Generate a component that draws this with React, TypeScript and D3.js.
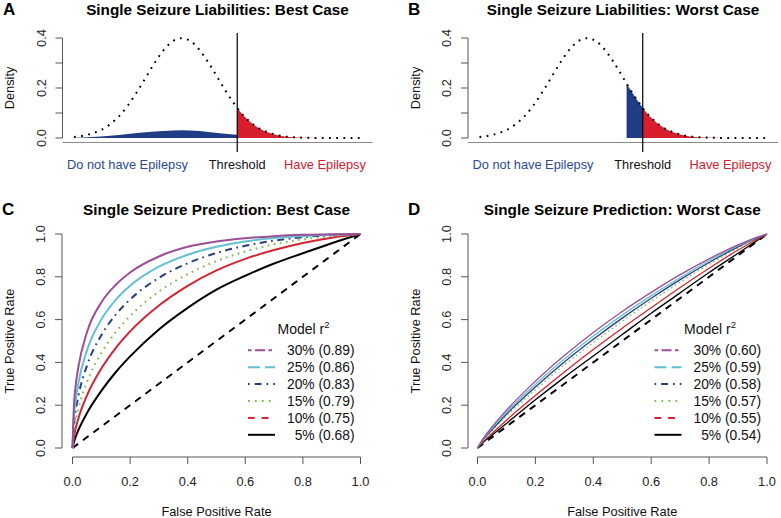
import React from "react";
import * as d3 from "d3";

const FONT = "'Liberation Sans', Arial, Helvetica, sans-serif";

const liabilityX = [-3, -2.75, -2.5, -2.25, -2, -1.75, -1.5, -1.25, -1, -0.75, -0.5, -0.25, 0, 0.25, 0.5, 0.75, 1, 1.1, 1.25, 1.5, 1.55, 1.75, 2, 2.25, 2.5, 2.75, 3, 3.25, 3.5, 3.75, 4, 4.5, 5];
const liabilityDensity = [0.004, 0.009, 0.018, 0.032, 0.054, 0.086, 0.13, 0.183, 0.242, 0.301, 0.352, 0.387, 0.399, 0.387, 0.352, 0.301, 0.242, 0.218, 0.183, 0.13, 0.12, 0.086, 0.054, 0.032, 0.018, 0.009, 0.004, 0.002, 0.001, 0.0004, 0.0001, 0, 0];
// blue bump under the curve in panel A (seizure, no epilepsy)
const bumpX = [-3, -2.5, -2, -1.5, -1, -0.5, 0, 0.5, 1, 1.55];
const bumpDensity = [0.001, 0.004, 0.009, 0.016, 0.023, 0.028, 0.031, 0.028, 0.02, 0.013];
const threshold = 1.55;
const worstCaseStart = 1.1;
const densityTicks = [0, 0.1, 0.2, 0.3, 0.4];

// ROC curves, best case (panel C)
const fprC = [0, 0.005, 0.01, 0.02, 0.05, 0.1, 0.15, 0.2, 0.3, 0.4, 0.5, 0.6, 0.7, 0.8, 0.9, 1];
const tpr30C = [0, 0.2, 0.28, 0.375, 0.54, 0.68, 0.762, 0.82, 0.895, 0.94, 0.965, 0.98, 0.99, 0.996, 0.999, 1];
const tpr25C = [0, 0.15, 0.21, 0.3, 0.455, 0.6, 0.692, 0.758, 0.847, 0.903, 0.94, 0.965, 0.981, 0.991, 0.997, 1];
const tpr20C = [0, 0.11, 0.164, 0.24, 0.384, 0.527, 0.623, 0.694, 0.795, 0.863, 0.911, 0.945, 0.969, 0.985, 0.995, 1];
const tpr15C = [0, 0.076, 0.118, 0.18, 0.307, 0.444, 0.541, 0.617, 0.731, 0.812, 0.873, 0.918, 0.952, 0.975, 0.991, 1];
const tpr10C = [0, 0.052, 0.085, 0.136, 0.245, 0.371, 0.467, 0.545, 0.666, 0.758, 0.83, 0.884, 0.925, 0.958, 0.983, 1];
const tpr05C = [0, 0.028, 0.048, 0.082, 0.163, 0.267, 0.354, 0.428, 0.554, 0.655, 0.74, 0.805, 0.862, 0.91, 0.957, 1];

// ROC curves, worst case (panel D)
const fprD = [0, 0.02, 0.05, 0.1, 0.2, 0.3, 0.4, 0.5, 0.6, 0.7, 0.8, 0.9, 0.95, 1];
const tpr30D = [0, 0.045, 0.098, 0.177, 0.312, 0.432, 0.54, 0.638, 0.727, 0.81, 0.884, 0.949, 0.977, 1];
const tpr25D = [0, 0.042, 0.092, 0.168, 0.298, 0.416, 0.523, 0.621, 0.712, 0.797, 0.875, 0.945, 0.975, 1];
const tpr20D = [0, 0.039, 0.085, 0.158, 0.285, 0.402, 0.508, 0.607, 0.7, 0.787, 0.867, 0.94, 0.972, 1];
const tpr15D = [0, 0.036, 0.08, 0.15, 0.272, 0.388, 0.493, 0.592, 0.686, 0.775, 0.858, 0.935, 0.97, 1];
const tpr10D = [0, 0.03, 0.068, 0.13, 0.245, 0.355, 0.46, 0.56, 0.655, 0.75, 0.84, 0.925, 0.963, 1];
const tpr05D = [0, 0.027, 0.06, 0.115, 0.225, 0.33, 0.43, 0.53, 0.63, 0.725, 0.82, 0.91, 0.955, 1];

const labelsC = ["30% (0.89)", "25% (0.86)", "20% (0.83)", "15% (0.79)", "10% (0.75)", "5% (0.68)"];
const labelsD = ["30% (0.60)", "25% (0.59)", "20% (0.58)", "15% (0.57)", "10% (0.55)", "5% (0.54)"];
const rocTicks = [0, 0.2, 0.4, 0.6, 0.8, 1];

const colors = ["#9C4F95", "#63C0D2", "#2A3E7C", "#7CBA4B", "#D42432", "#000000"];
const legendDash = ["3.5 3.5 10 3.5", "12 5", "1.7 5 6.8 5", "1.7 5.3", "6.8 6.8", null];
const curveDashC = [null, null, "1.7 4.5 7 4.5", "1.7 4.5", null, null];
const curveDashD = [null, null, null, "1.5 3", null, null];

const fmt = d3.format(".1f");

function DensityPanel({ axisX, letterX, letter, title, blue }) {
  const x = d3.scaleLinear().domain([-3, 5]).range([axisX + 11.5, axisX + 298.5]);
  const y = d3.scaleLinear().domain([0, 0.4]).range([138, 38]);
  const pts = liabilityX.map((v, i) => [v, liabilityDensity[i]]);
  const area = d3.area().x((d) => x(d[0])).y0(y(0)).y1((d) => y(d[1])).curve(d3.curveMonotoneX);
  const line = d3.line().x((d) => x(d[0])).y((d) => y(d[1])).curve(d3.curveMonotoneX);
  const red = pts.filter((d) => d[0] >= threshold);
  const tx = x(threshold);
  return (
    <g fontFamily={FONT}>
      <text x={letterX} y={15} fontSize={17} fontWeight="bold">{letter}</text>
      <text x={axisX + 155} y={15} fontSize={15.3} fontWeight="bold" textAnchor="middle">{title}</text>
      <path d={area(blue)} fill="#1F3C84" />
      <path d={area(red)} fill="#D81E2C" />
      <path d={line(pts)} fill="none" stroke="#000" strokeWidth={2} strokeDasharray="1.8 5.4" />
      <line x1={axisX} x2={axisX + 310} y1={142.5} y2={142.5} stroke="#8a8a8a" strokeWidth={1.2} />
      <line x1={tx} x2={tx} y1={33} y2={152} stroke="#000" strokeWidth={1.2} />
      <line x1={axisX} x2={axisX} y1={y(0)} y2={y(0.4)} stroke="#555" />
      {densityTicks.map((t, i) => (
        <g key={t}>
          <line x1={axisX - 7} x2={axisX} y1={y(t)} y2={y(t)} stroke="#555" />
          {i % 2 === 0 && (
            <text x={axisX - 17} y={y(t)} fontSize={12.8} textAnchor="middle" fill="#222"
              transform={`rotate(-90 ${axisX - 17} ${y(t)})`}>{fmt(t)}</text>
          )}
        </g>
      ))}
      <text x={axisX - 48.5} y={88} fontSize={12.8} textAnchor="middle" fill="#111"
        transform={`rotate(-90 ${axisX - 48.5} 88)`}>Density</text>
      <text x={axisX + 65} y={169} fontSize={12.8} textAnchor="middle" fill="#2E4A8E">Do not have Epilepsy</text>
      <text x={tx} y={169} fontSize={12.8} textAnchor="middle" fill="#111">Threshold</text>
      <text x={axisX + 262.5} y={169} fontSize={12.8} textAnchor="middle" fill="#D0202E">Have Epilepsy</text>
    </g>
  );
}

function RocPanel({ axisX, x0, x1, letterX, letter, title, fpr, series, labels, curveDash, width }) {
  const x = d3.scaleLinear().domain([0, 1]).range([x0, x1]);
  const y = d3.scaleLinear().domain([0, 1]).range([448, 234]);
  const line = d3.line().x((d) => x(d[0])).y((d) => y(d[1])).curve(d3.curveMonotoneX);
  const legendRight = x1 - 6;
  const legendLine = x1 - 112.5;
  return (
    <g fontFamily={FONT}>
      <text x={letterX} y={215} fontSize={17} fontWeight="bold">{letter}</text>
      <text x={(x0 + x1) / 2} y={215} fontSize={15.3} fontWeight="bold" textAnchor="middle">{title}</text>
      <line x1={x(0)} y1={y(0)} x2={x(1)} y2={y(1)} stroke="#000" strokeWidth={2} strokeDasharray="7 6" />
      {series.map((s, i) => ({ s, i })).reverse().map(({ s, i }) => (
        <path key={i} d={line(fpr.map((f, j) => [f, s[j]]))} fill="none" stroke={colors[i]}
          strokeWidth={width} strokeDasharray={curveDash[i] || undefined} />
      ))}
      {/* axes */}
      <line x1={axisX} x2={axisX} y1={y(0)} y2={y(1)} stroke="#555" />
      <line x1={x(0)} x2={x(1)} y1={457} y2={457} stroke="#555" />
      {rocTicks.map((t) => (
        <g key={t}>
          <line x1={axisX - 7} x2={axisX} y1={y(t)} y2={y(t)} stroke="#555" />
          <text x={axisX - 17} y={y(t)} fontSize={12.8} textAnchor="middle" fill="#222"
            transform={`rotate(-90 ${axisX - 17} ${y(t)})`}>{fmt(t)}</text>
          <line x1={x(t)} x2={x(t)} y1={457} y2={464} stroke="#555" />
          <text x={x(t)} y={486} fontSize={12.8} textAnchor="middle" fill="#222">{fmt(t)}</text>
        </g>
      ))}
      <text x={axisX - 48} y={341} fontSize={12.8} textAnchor="middle" fill="#111"
        transform={`rotate(-90 ${axisX - 48} 341)`}>True Positive Rate</text>
      <text x={(x0 + x1) / 2} y={516} fontSize={12.8} textAnchor="middle" fill="#111">False Positive Rate</text>
      {/* legend */}
      <text x={x1 - 83} y={334} fontSize={14} fill="#111">
        Model r<tspan fontSize={9.5} dy={-6}>2</tspan>
      </text>
      {labels.map((lab, i) => {
        const cy = 350.3 + i * 16.9;
        return (
          <g key={lab}>
            <line x1={legendLine} x2={legendLine + 27} y1={cy} y2={cy} stroke={colors[i]} strokeWidth={2}
              strokeDasharray={legendDash[i] || undefined} />
            <text x={legendRight} y={cy + 5} fontSize={13.8} textAnchor="end" fill="#111">{lab}</text>
          </g>
        );
      })}
    </g>
  );
}

export default function App() {
  const bumpPts = bumpX.map((v, i) => [v, bumpDensity[i]]);
  const worstBlue = liabilityX
    .map((v, i) => [v, liabilityDensity[i]])
    .filter((d) => d[0] >= worstCaseStart && d[0] <= threshold);
  return (
    <svg width={781} height={518} style={{ position: "absolute", left: 0, top: 0, background: "#fff" }}>
      <rect width={781} height={518} fill="#fff" />
      <DensityPanel axisX={62.5} letterX={3} letter="A" title="Single Seizure Liabilities: Best Case" blue={bumpPts} />
      <DensityPanel axisX={468} letterX={408} letter="B" title="Single Seizure Liabilities: Worst Case" blue={worstBlue} />
      <RocPanel axisX={62} x0={72.5} x1={360.5} letterX={2} letter="C" title="Single Seizure Prediction: Best Case"
        fpr={fprC} series={[tpr30C, tpr25C, tpr20C, tpr15C, tpr10C, tpr05C]} labels={labelsC}
        curveDash={curveDashC} width={2} />
      <RocPanel axisX={468} x0={477.5} x1={767} letterX={408} letter="D" title="Single Seizure Prediction: Worst Case"
        fpr={fprD} series={[tpr30D, tpr25D, tpr20D, tpr15D, tpr10D, tpr05D]} labels={labelsD}
        curveDash={curveDashD} width={1.3} />
    </svg>
  );
}
